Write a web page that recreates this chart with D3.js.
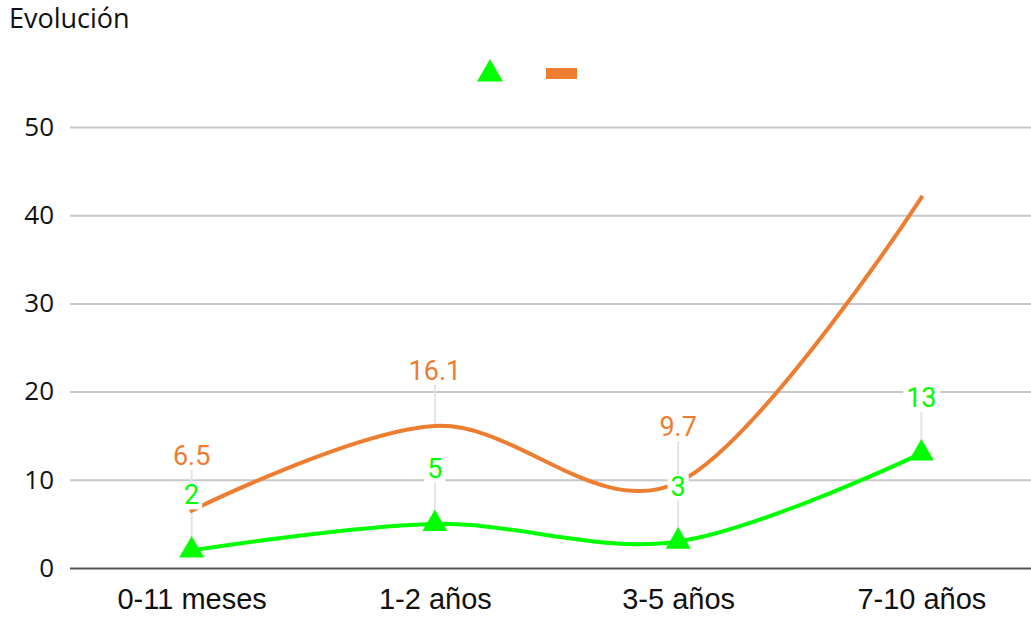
<!DOCTYPE html>
<html>
<head>
<meta charset="utf-8">
<script src="https://cdn.jsdelivr.net/npm/d3@7"></script>
<style>
  html, body { margin: 0; padding: 0; background: #fff; }
  svg { display: block; }
</style>
</head>
<body>
<svg id="chart" width="1031" height="617"></svg>
<script>
// Age groups on the x axis
const categories = ["0-11 meses", "1-2 años", "3-5 años", "7-10 años"];
// Green series (triangle markers)
const seriesGreen = [2, 5, 3, 13];
// Orange series (no markers); last point carries no label
const seriesOrange = [6.5, 16.1, 9.7, 42];
const orangeLabels = ["6.5", "16.1", "9.7", null];
const greenLabels = ["2", "5", "3", "13"];
// Y axis ticks
const yTicks = [0, 10, 20, 30, 40, 50];

const GREEN = "#00ff00";
const ORANGE = "#ed7d31";

const svg = d3.select("#chart");
const margin = { left: 70, right: -12, top: 127, bottom: 49 };
const width = 1031, height = 617;

const x = d3.scalePoint()
  .domain(categories)
  .range([margin.left, width - margin.right])
  .padding(0.5);

const y = d3.scaleLinear()
  .domain([0, 50])
  .range([height - margin.bottom, margin.top]);

// Title
svg.append("text")
  .attr("x", 9).attr("y", 28)
  .attr("font-family", "'Open Sans', sans-serif")
  .attr("font-size", 27)
  .attr("fill", "#111")
  .text("Evolución");

// Gridlines + y tick labels
const yAxis = d3.axisLeft(y)
  .tickValues(yTicks)
  .tickSize(-(width - margin.left))
  .tickPadding(16)
  .tickFormat(d3.format("d"));

const gy = svg.append("g")
  .attr("transform", `translate(${margin.left},0)`)
  .call(yAxis);
gy.select(".domain").remove();
gy.selectAll(".tick line")
  .attr("stroke", d => d === 0 ? "#555" : "#c8c8c8")
  .attr("stroke-width", 2);
gy.selectAll(".tick text")
  .attr("font-family", "'Open Sans', sans-serif")
  .attr("font-size", 26)
  .attr("fill", "#111");

// X axis labels
const xAxis = d3.axisBottom(x).tickSize(0).tickPadding(20);
const gx = svg.append("g")
  .attr("transform", `translate(0,${y(0)})`)
  .call(xAxis);
gx.select(".domain").remove();
gx.selectAll(".tick text")
  .attr("font-family", "'Liberation Sans', Arial, sans-serif")
  .attr("font-size", 29)
  .attr("fill", "#111");

const line = d3.line()
  .x((d, i) => x(categories[i]))
  .y(d => y(d))
  .curve(d3.curveCatmullRom.alpha(0));

// Leader lines from points to labels
function leaders(values, labels) {
  svg.append("g")
    .selectAll("line")
    .data(values.map((v, i) => ({ v, i, l: labels[i] })).filter(d => d.l !== null))
    .join("line")
    .attr("x1", d => x(categories[d.i]))
    .attr("x2", d => x(categories[d.i]))
    .attr("y1", d => y(d.v))
    .attr("y2", d => y(d.v) - 42)
    .attr("stroke", "#e4e4e4")
    .attr("stroke-width", 2);
}
leaders(seriesOrange, orangeLabels);
leaders(seriesGreen, greenLabels);

// Orange curve
svg.append("path")
  .datum(seriesOrange)
  .attr("d", line)
  .attr("fill", "none")
  .attr("stroke", ORANGE)
  .attr("stroke-width", 4)
  .attr("stroke-linecap", "square");

// Green curve
svg.append("path")
  .datum(seriesGreen)
  .attr("d", line)
  .attr("fill", "none")
  .attr("stroke", GREEN)
  .attr("stroke-width", 4);

// Green triangle markers
svg.append("g")
  .selectAll("path")
  .data(seriesGreen)
  .join("path")
  .attr("transform", (d, i) => `translate(${x(categories[i])},${y(d)})`)
  .attr("d", d3.symbol(d3.symbolTriangle, 270))
  .attr("fill", GREEN);

// Value labels with white background boxes
function valueLabels(values, labels, color) {
  const g = svg.append("g");
  values.forEach((v, i) => {
    if (labels[i] === null) return;
    const lg = g.append("g");
    const t = lg.append("text")
      .attr("x", x(categories[i]))
      .attr("y", y(v) - 46)
      .attr("text-anchor", "middle")
      .attr("font-family", "Roboto, sans-serif")
      .attr("font-size", 27)
      .attr("fill", color)
      .text(labels[i]);
    const bb = t.node().getBBox();
    lg.insert("rect", "text")
      .attr("x", bb.x - 3).attr("y", bb.y + 4)
      .attr("width", bb.width + 6).attr("height", bb.height - 6)
      .attr("fill", "#fff");
  });
}
valueLabels(seriesOrange, orangeLabels, ORANGE);
valueLabels(seriesGreen, greenLabels, GREEN);

// Legend (symbols only)
svg.append("path")
  .attr("transform", "translate(490,74)")
  .attr("d", d3.symbol(d3.symbolTriangle, 290))
  .attr("fill", GREEN);
svg.append("rect")
  .attr("x", 546).attr("y", 68)
  .attr("width", 31).attr("height", 11)
  .attr("fill", ORANGE);
</script>
</body>
</html>
